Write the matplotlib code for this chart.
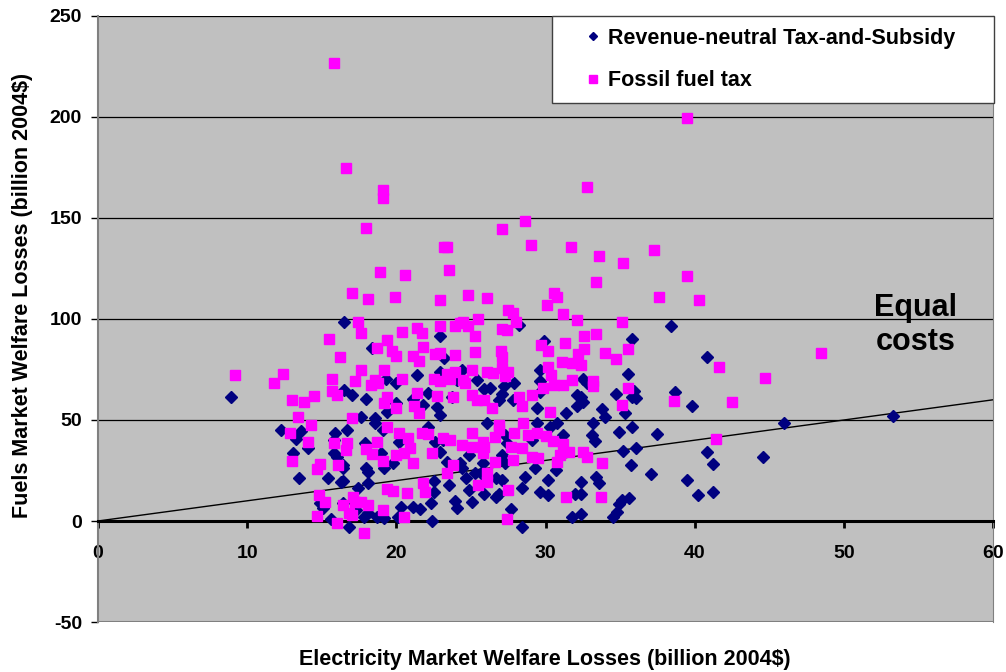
import matplotlib
matplotlib.use("Agg")
import matplotlib.pyplot as plt

plt.rcParams['font.family'] = ['Liberation Sans', 'DejaVu Sans']
plt.rcParams['font.weight'] = 'bold'
plt.rcParams['axes.unicode_minus'] = False

# Revenue-neutral Tax-and-Subsidy (electricity loss, fuels loss), billion 2004$
rts_points = [
    (8.9, 61.4),
    (12.3, 45), (13.6, 44.6), (13.3, 40.6), (14.1, 36.1), (13.1, 33.7), (13.5, 21.3),
    (15.4, 21.3), (15.9, 43.6), (15.8, 40.1), (15.8, 33.7), (16.0, 31.7), (15.1, 6.4),
    (15.6, 1.0), (14.9, 8.9), (16.3, 19.3),
    (16.5, 98.5), (22.9, 91.6), (18.4, 85.6), (23.2, 80.7), (21.4, 72.3), (22.9, 73.8),
    (19.3, 70.3), (20.0, 68.3), (16.5, 64.9), (17.0, 62.4), (18.0, 60.4), (20.0, 58.4),
    (21.1, 60.4), (22.1, 63.4), (21.8, 57.4), (22.7, 56.4), (19.4, 54), (17.6, 51.5),
    (18.6, 51), (24.1, 69.8), (23.7, 61.4), (22.9, 52.5),
    (16.7, 45), (18.6, 48.5), (19.1, 45), (20.2, 39.1), (22.6, 39.1), (23.1, 40.1),
    (22.1, 46.5), (17.9, 38.6), (19.0, 33.7), (19.8, 28.7), (22.9, 34.2), (23.4, 29.2),
    (16.4, 27.7), (16.4, 26.2), (18.1, 24.3), (18.0, 26.2), (19.2, 26.2), (16.4, 19.8),
    (18.1, 18.8), (17.4, 16.3), (22.5, 19.8), (22.5, 14.4), (23.5, 17.8), (16.4, 8.9),
    (17.8, 2), (18.1, 4), (17.3, 5.4), (18.7, 2), (19.2, 1.5), (20.3, 6.9), (21.1, 6.9),
    (21.6, 5.9), (22.3, 8.9), (22.4, 0), (16.8, -3), (24.1, 6.4), (23.9, 9.9), (20.1, 2),
    (28.2, 97), (29.9, 89.1), (24.4, 74.8), (29.6, 74.8), (29.6, 69.3), (25.4, 69.8),
    (26.3, 65.8), (25.9, 65.3), (27.2, 66.8), (27.9, 68.3), (27.1, 62.9), (26.9, 59.9),
    (29.6, 63.9), (27.8, 59.9), (29.4, 55.9), (32.1, 62.4), (32.1, 56.9), (31.4, 53.5),
    (26.1, 48.5), (29.4, 48.5), (30.3, 46.5), (30.8, 48.5), (27.3, 42.6), (27.4, 38.6),
    (29.1, 40.1), (31.2, 42.6), (27.1, 32.7), (27.3, 28.7), (24.9, 32.7), (24.7, 21.3),
    (25.8, 28.7), (25.7, 23.8), (25.3, 23.8), (26.7, 21.3), (27.1, 20.3), (28.6, 21.8),
    (30.2, 20.3), (30.7, 25.2), (29.3, 26.2), (24.9, 15.3), (25.9, 13.4), (26.7, 11.9),
    (26.9, 13.4), (28.4, 16.3), (29.6, 14.4), (30.2, 12.9), (25.1, 9.4), (27.7, 5.9),
    (28.4, -3), (32.0, 13.4), (31.8, 2), (24.3, 28.7), (24.4, 26.2),
    (38.4, 96.5), (35.8, 90.1), (40.8, 81.2), (35.5, 72.8), (32.5, 70.3), (32.8, 68.3),
    (35.9, 64.4), (36.1, 60.9), (35.8, 61.4), (34.7, 62.9), (38.7, 63.9), (39.8, 56.9),
    (33.8, 55.4), (34.0, 51.5), (35.3, 53.5), (32.4, 61.4), (32.5, 58.9),
    (33.2, 48.5), (35.8, 46.5), (34.9, 44.1), (37.5, 43.1), (33.1, 42.6), (33.3, 39.6),
    (35.2, 34.7), (36.1, 36.1), (35.7, 27.7), (40.8, 34.2), (41.2, 28.2), (37.1, 23.3),
    (39.5, 20.3), (33.4, 21.8), (33.6, 18.8), (35.6, 11.4), (35.1, 10.4), (34.9, 8.4),
    (40.2, 12.9), (41.2, 14.4), (34.8, 4.5), (34.5, 2), (32.4, 3.5), (32.4, 19.3),
    (32.4, 13.4),
    (46.0, 48.5), (44.6, 31.7), (53.3, 52),
]

# Fossil fuel tax
fft_points = [
    (15.8, 226.7), (39.5, 199.5), (16.6, 174.8), (19.1, 163.9), (19.1, 159.9), (32.8, 165.3),
    (18.0, 145), (28.6, 148.5), (27.1, 144.6), (23.2, 135.6), (23.4, 135.6), (29.0, 136.6),
    (31.7, 135.6), (33.6, 131.2), (35.2, 127.7), (37.3, 134.2), (18.9, 123.3), (20.6, 121.8),
    (23.5, 124.3), (33.4, 118.3), (39.5, 121.3), (17.0, 112.9), (18.1, 109.9), (19.9, 110.9),
    (22.9, 109.4), (24.8, 111.9), (26.1, 110.4), (30.6, 112.9), (30.8, 110.9), (37.6, 110.9),
    (40.3, 109.4), (27.5, 104.5), (27.8, 103), (30.1, 107), (31.2, 102.5),
    (15.5, 90.1), (16.2, 81), (9.2, 72.3), (12.4, 72.8), (11.8, 68.3), (15.7, 70.3),
    (15.7, 64.4), (16.0, 62.4), (13.0, 59.9), (13.8, 58.9), (14.5, 61.9), (13.4, 51.5),
    (12.9, 43.6), (14.3, 47.5), (14.1, 39.1), (13.0, 29.7), (14.9, 28.2), (14.7, 25.7),
    (15.8, 38.6), (16.1, 27.7), (14.8, 12.9), (15.2, 9.4), (14.7, 2.5), (16.0, -1),
    (17.4, 98.5), (17.6, 93), (21.4, 95.5), (21.7, 93), (22.9, 96.5), (23.9, 96.5),
    (24.3, 98), (20.4, 93.6), (19.4, 89.6), (18.7, 85.6), (19.7, 84.2), (20.0, 81.7),
    (21.8, 86.1), (21.1, 81.7), (21.5, 79.2), (22.6, 82.7), (22.9, 83.2), (23.9, 82.2),
    (17.6, 74.8), (19.2, 74.8), (23.4, 72.8), (23.9, 73.8), (17.2, 69.3), (18.6, 69.8),
    (18.3, 67.3), (18.8, 68.3), (20.4, 70.3), (22.5, 70.3), (22.9, 69.3), (23.6, 70.3),
    (19.4, 61.4), (19.2, 58.4), (20.0, 55.9), (21.4, 63.4), (22.7, 61.9), (21.2, 56.9),
    (21.5, 53.5), (17.0, 51), (23.8, 61.4),
    (19.4, 46.5), (20.2, 43.6), (20.8, 41.1), (21.7, 43.6), (22.1, 43.1), (23.1, 41.1),
    (23.6, 40.1), (16.7, 38.6), (16.6, 35.1), (18.7, 39.1), (18.0, 35.6), (18.4, 33.2),
    (19.1, 29.7), (20.0, 32.7), (20.5, 33.7), (20.9, 36.1), (21.1, 28.7), (22.4, 33.7),
    (23.8, 27.7), (23.4, 23.8), (19.4, 15.8), (19.8, 14.9), (20.7, 13.9), (21.8, 18.8),
    (21.9, 14.4), (17.1, 11.9), (17.2, 9.4), (17.6, 9.4), (18.1, 7.9), (16.4, 7.9),
    (16.8, 4), (17.0, 3), (19.1, 5.4), (20.5, 2), (17.8, -6),
    (24.5, 98.5), (24.8, 96.5), (25.5, 100), (28.0, 98.5), (32.1, 99.5), (27.1, 95),
    (27.4, 94.6), (25.3, 91.6), (29.7, 87.1), (30.2, 84.2), (31.3, 88.1), (25.3, 83.7),
    (27.0, 84.2), (27.1, 81.2), (32.2, 82.7), (31.8, 78.2), (31.1, 78.7), (25.1, 74.8),
    (26.1, 73.8), (26.5, 73.3), (27.1, 75.7), (27.5, 73.8), (27.3, 71.8), (30.2, 76.2),
    (30.4, 72.3), (24.5, 69.8), (24.6, 68.3), (30.6, 67.3), (31.2, 67.3), (31.8, 69.8),
    (29.8, 65.8), (25.1, 62.4), (25.4, 59.9), (25.9, 59.9), (26.4, 55.9), (28.2, 61.4),
    (28.4, 56.9), (29.1, 62.4), (30.3, 54),
    (26.9, 47.5), (26.9, 45), (28.5, 48.5), (25.1, 43.6), (26.6, 41.6), (24.4, 37.6),
    (25.1, 36.6), (25.8, 39.1), (25.9, 36.6), (25.8, 33.7), (27.7, 36.6), (28.4, 36.1),
    (28.8, 42.6), (29.4, 43.6), (30.0, 42.1), (30.5, 39.6), (27.9, 43.6), (31.2, 38.1),
    (31.6, 34.2), (31.0, 32.7), (29.1, 31.7), (29.5, 31.2), (26.6, 29.2), (27.8, 30.2),
    (30.8, 29.2), (26.1, 23.8), (26.1, 19.3), (25.5, 17.8), (27.5, 15.3), (27.4, 1),
    (31.4, 11.9),
    (35.1, 98.5), (32.6, 91.6), (33.4, 92.6), (32.6, 85.1), (34.0, 83.2), (34.7, 80.2),
    (35.5, 85.1), (32.4, 77.2), (41.6, 76.2), (33.2, 69.3), (33.2, 66.8), (35.5, 65.8),
    (38.6, 59.4), (35.1, 57.4),
    (32.5, 34.2), (32.8, 31.7), (33.8, 28.7), (41.4, 40.6), (33.7, 11.9),
    (48.5, 83.2), (44.7, 70.8), (42.5, 58.9),
]

x_ticks = [0, 10, 20, 30, 40, 50, 60]
y_ticks = [-50, 0, 50, 100, 150, 200, 250]
equal_line = [0, 60]

fig = plt.figure(figsize=(10.06, 6.72), dpi=100)
ax = fig.add_axes([0.0974, 0.0744, 0.8897, 0.9018])
ax.set_facecolor('#C0C0C0')
ax.set_xlim(0, 60)
ax.set_ylim(-50, 250)

# horizontal gridlines
for y in y_ticks[2:]:
    ax.axhline(y, color='black', lw=0.9, zorder=1)
ax.axhline(-50, color='#808080', lw=1.5, zorder=1)

ax.plot(equal_line, equal_line, color='black', lw=1, zorder=2)

rx = [p[0] for p in rts_points]
ry = [p[1] for p in rts_points]
fx = [p[0] for p in fft_points]
fy = [p[1] for p in fft_points]
ax.plot(rx, ry, ls='none', marker='D', ms=6, color='#000080', mec='#000080',
        label='Revenue-neutral Tax-and-Subsidy', zorder=3)
ax.plot(fx, fy, ls='none', marker='s', ms=7, color='#FF00FF', mec='#FF00FF',
        label='Fossil fuel tax', zorder=4)

ax.spines['bottom'].set_position(('data', 0))
ax.spines['bottom'].set_linewidth(2.2)
ax.spines['bottom'].set_color('black')
ax.spines['bottom'].set_zorder(2.5)
ax.spines['top'].set_visible(False)
ax.spines['right'].set_color('#808080')
ax.spines['left'].set_color('#808080')
ax.spines['left'].set_linewidth(1.5)

ax.set_xticks(x_ticks)
ax.set_yticks(y_ticks)
ax.tick_params(axis='x', direction='out', length=5, width=2, pad=12, labelsize=14)
ax.tick_params(axis='y', direction='out', length=5, width=1, pad=6.5, labelsize=14, color='black')
for lab in ax.get_xticklabels() + ax.get_yticklabels():
    lab.set_fontweight('bold')

ax.text(54.8, 97, 'Equal\ncosts', ha='center', va='center', fontsize=22,
        fontweight='bold', linespacing=1.15)

leg = ax.legend(loc='upper left', bbox_to_anchor=(0.507, 0.856, 0.494, 0.144),
                mode='expand', borderaxespad=0,
                prop={'weight': 'bold', 'size': 15.5}, frameon=True,
                fancybox=False, framealpha=1, edgecolor='#404040', numpoints=1,
                handlelength=2.7, handletextpad=-0.65, labelspacing=1.0, borderpad=0.55,
                markerscale=0.75)
leg.get_frame().set_linewidth(1)
leg.set_zorder(10)

fig.text(0.542, 0.018, 'Electricity Market Welfare Losses (billion 2004$)', ha='center',
         va='center', fontsize=15.5, fontweight='bold')
fig.text(0.022, 0.56, 'Fuels Market Welfare Losses (billion 2004$)', ha='center',
         va='center', rotation=90, fontsize=15.5, fontweight='bold')

fig.savefig('out.png', dpi=100)
